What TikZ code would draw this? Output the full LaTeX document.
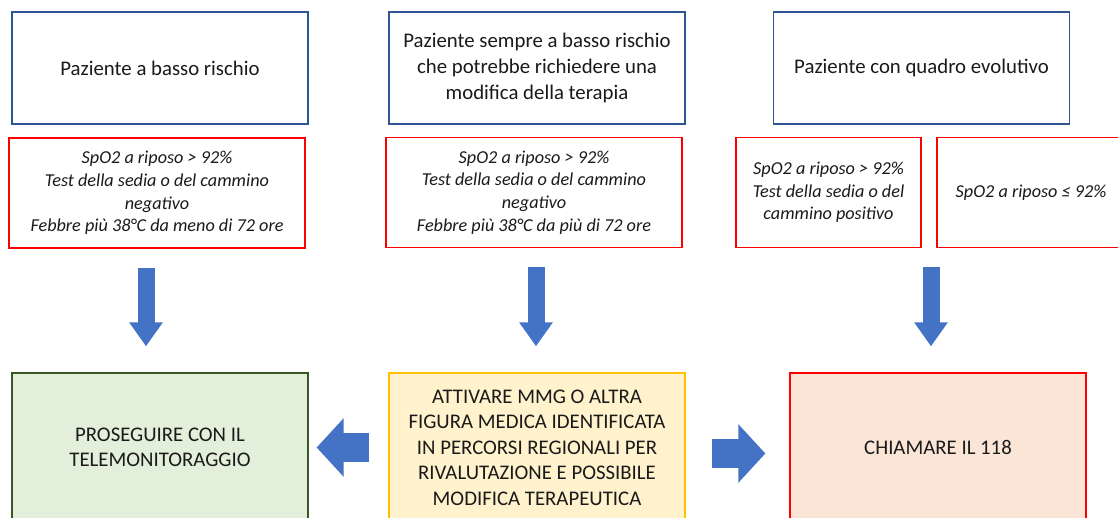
\documentclass[tikz,border=0pt]{standalone}
\usepackage{fontspec}
\setmainfont{Carlito}
\usetikzlibrary{calc,arrows.meta}
\definecolor{boxblue}{HTML}{2F5597}
\definecolor{arrblue}{HTML}{4472C4}
\definecolor{gfill}{HTML}{E2EFDA}
\definecolor{gdraw}{HTML}{385723}
\definecolor{yfill}{HTML}{FFF2CC}
\definecolor{ydraw}{HTML}{FFC000}
\definecolor{pfill}{HTML}{FBE5D6}
\definecolor{txt}{HTML}{1A1A1A}
\tikzset{
  box/.style={draw, line width=1.3pt, minimum width=296pt, inner sep=0pt, align=center, text=txt},
  topbox/.style={box, draw=boxblue, minimum height=112pt, font=\fontsize{20.8}{26}\selectfont},
  condbox/.style={box, draw=red, minimum height=110pt, font=\fontsize{18.2}{22.7}\selectfont\itshape},
  endbox/.style={box, minimum height=149pt, font=\fontsize{20.8}{25.5}\selectfont},
  downarr/.style={draw=arrblue, line width=17pt, -{Triangle[width=32pt,length=24pt,fill=arrblue]}},
  sidearr/.style={draw=arrblue, line width=28.5pt, -{Triangle[width=57pt,length=27pt,fill=arrblue]}},
}
\begin{document}
\begin{tikzpicture}[x=1pt,y=-1pt]
\clip (0,0) rectangle (1118,518);
\fill[white] (0,0) rectangle (1118,518);
% top boxes
\node[topbox] (b1) at (160,68) {Paziente a basso rischio};
\node[topbox] (b2) at (537,68) {Paziente sempre a basso rischio\\che potrebbe richiedere una\\modifica della terapia};
\node[topbox] (b3) at (921.5,68) {Paziente con quadro evolutivo};
% condition boxes
\node[condbox] (r1) at (157,193) {SpO2 a riposo > 92\%\\Test della sedia o del cammino\\negativo\\Febbre più 38°C da meno di 72 ore};
\node[condbox] (r2) at (534,192.5) {SpO2 a riposo > 92\%\\Test della sedia o del cammino\\negativo\\Febbre più 38°C da più di 72 ore};
\node[condbox, minimum width=185pt] (r3a) at (828.5,192.5) {SpO2 a riposo > 92\%\\Test della sedia o del\\cammino positivo};
\node[condbox, minimum width=188pt] (r3b) at (1031,192.5) {SpO2 a riposo ≤ 92\%};
% end boxes
\node[endbox, draw=gdraw, fill=gfill] (g) at (160,447.5) {PROSEGUIRE CON IL\\TELEMONITORAGGIO};
\node[endbox, draw=ydraw, fill=yfill] (y) at (537,447.5) {ATTIVARE MMG O ALTRA\\FIGURA MEDICA IDENTIFICATA\\IN PERCORSI REGIONALI PER\\RIVALUTAZIONE E POSSIBILE\\MODIFICA TERAPEUTICA};
\node[endbox, draw=red, fill=pfill] (p) at (938,447.5) {CHIAMARE IL 118};
% down arrows
\draw[downarr] ($(r1.south)+(-11,19)$) -- ($(g.north)+(-14,-26)$);
\draw[downarr] ($(r2.south)+(2,19)$) -- ($(y.north)+(-1,-26)$);
\draw[downarr] ($(r3a.south)+(102.5,19)$) -- ($(p.north)+(-7,-26)$);
% side arrows
\draw[sidearr] ($(y.west)+(-19,0)$) -- ($(g.east)+(8,0)$);
\draw[sidearr] ($(y.east)+(26,6)$) -- ($(p.west)+(-24,6)$);
\end{tikzpicture}
\end{document}
